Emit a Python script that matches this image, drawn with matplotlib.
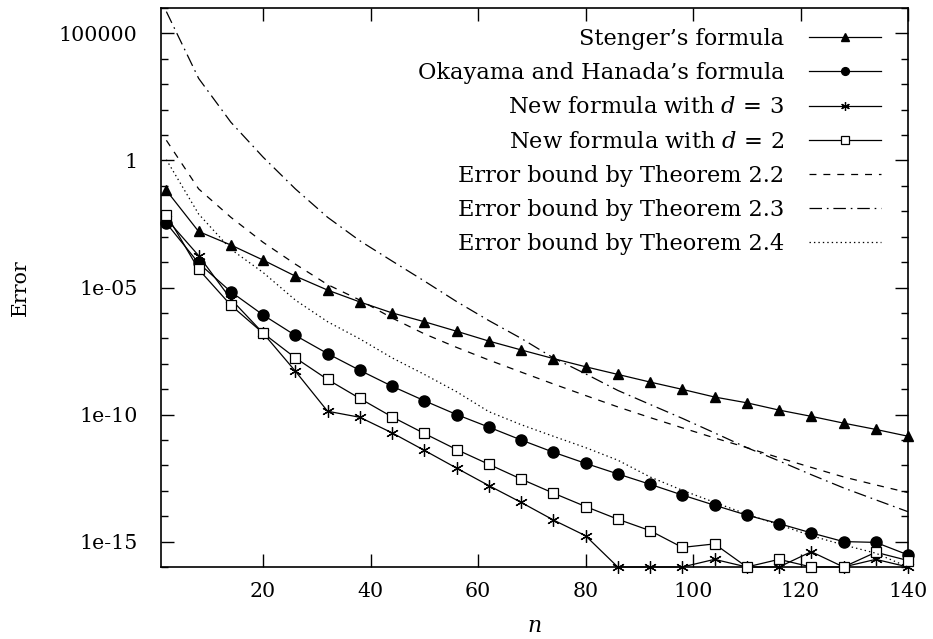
import matplotlib
matplotlib.use("Agg")
import matplotlib.pyplot as plt
from matplotlib.ticker import FixedLocator, FuncFormatter, NullFormatter

# ---------------- data ----------------
n = [2, 8, 14, 20, 26, 32, 38, 44, 50, 56, 62, 68, 74, 80, 86, 92, 98, 104,
     110, 116, 122, 128, 134, 140]

stenger = [6.6e-2, 1.6e-3, 4.7e-4, 1.2e-4, 2.8e-5, 7.9e-6, 2.7e-6, 1.0e-6,
           4.5e-7, 1.9e-7, 7.8e-8, 3.5e-8, 1.6e-8, 7.6e-9, 3.8e-9, 1.9e-9,
           9.8e-10, 4.9e-10, 2.9e-10, 1.5e-10, 8.5e-11, 4.6e-11, 2.6e-11, 1.4e-11]

okayama = [3.4e-3, 9.1e-5, 6.8e-6, 8.3e-7, 1.3e-7, 2.5e-8, 5.5e-9, 1.3e-9,
           3.5e-10, 1.0e-10, 3.2e-11, 1.0e-11, 3.3e-12, 1.2e-12, 4.6e-13,
           1.8e-13, 6.8e-14, 2.7e-14, 1.1e-14, 5.1e-15, 2.2e-15, 1.0e-15,
           9.3e-16, 3.0e-16]

new_d3 = [5.0e-3, 1.8e-4, 3.5e-6, 1.6e-7, 5.1e-9, 1.35e-10, 7.8e-11, 1.9e-11,
          3.9e-12, 7.8e-13, 1.6e-13, 3.5e-14, 7.1e-15, 1.7e-15, 1.0e-16,
          1.0e-16, 1.0e-16, 2.0e-16, 1.0e-16, 1.0e-16, 4.0e-16, 1.0e-16,
          2.0e-16, 1.0e-16]

new_d2 = [7.4e-3, 5.2e-5, 2.0e-6, 1.6e-7, 1.7e-8, 2.4e-9, 4.3e-10, 8.1e-11,
          1.8e-11, 4.2e-12, 1.1e-12, 2.9e-13, 8.1e-14, 2.4e-14, 7.6e-15,
          2.7e-15, 5.9e-16, 8.1e-16, 1.0e-16, 2.0e-16, 1.0e-16, 1.0e-16,
          3.8e-16, 1.8e-16]

bound_22 = [6.2, 7.6e-2, 5.8e-3, 6.0e-4, 8.3e-5, 1.3e-5, 3.2e-6, 6.3e-7,
            1.5e-7, 4.4e-8, 1.4e-8, 4.7e-9, 1.6e-9, 5.6e-10, 2.0e-10, 7.6e-11,
            3.0e-11, 1.2e-11, 5.0e-12, 2.0e-12, 8.3e-13, 3.5e-13, 1.7e-13,
            8.5e-14]

bound_23 = [7.2e5, 1.7e3, 32.0, 1.35, 7.6e-2, 5.8e-3, 6.9e-4, 1.1e-4, 1.8e-5,
            2.8e-6, 5.0e-7, 1.0e-7, 1.7e-8, 4.0e-9, 8.9e-10, 2.5e-10, 7.1e-11,
            1.9e-11, 5.0e-12, 1.5e-12, 4.3e-13, 1.3e-13, 4.4e-14, 1.5e-14]

bound_24 = [1.07, 7.8e-3, 3.2e-4, 3.9e-5, 3.2e-6, 4.5e-7, 9.5e-8, 1.7e-8,
            3.8e-9, 7.9e-10, 1.3e-10, 4.0e-11, 1.4e-11, 5.0e-12, 1.6e-12,
            3.5e-13, 1.05e-13, 3.5e-14, 1.2e-14, 4.6e-15, 1.7e-15, 7.4e-16,
            3.5e-16, 1.0e-16]

labels = ["Stenger\u2019s formula",
          "Okayama and Hanada\u2019s formula",
          "New formula with $d\\,=\\,3$",
          "New formula with $d\\,=\\,2$",
          "Error bound by Theorem 2.2",
          "Error bound by Theorem 2.3",
          "Error bound by Theorem 2.4"]

x_ticks = [20, 40, 60, 80, 100, 120, 140]
y_major = [1e-15, 1e-10, 1e-5, 1, 1e5]
y_labels = ["1e-15", "1e-10", "1e-05", "1", "100000"]
y_minor = [10.0 ** k for k in range(-16, 7)]

# ---------------- style ----------------
plt.rcParams['font.family'] = ['DejaVu Serif']
plt.rcParams['mathtext.fontset'] = 'dejavuserif'
plt.rcParams['lines.scale_dashes'] = False
FS = 14.8
LFS = 16.2

fig = plt.figure(figsize=(9.33, 6.39), dpi=100)
ax = fig.add_axes([161 / 933, 1 - 567 / 639, (908 - 161) / 933, (567 - 8) / 639])

lw = 0.9
ax.plot(n, stenger, color='black', lw=lw, marker='^', ms=7.5,
        label=labels[0], clip_on=False)
ax.plot(n, okayama, color='black', lw=lw, marker='o', ms=8,
        label=labels[1], clip_on=False)
ax.plot(n, new_d3, color='black', lw=lw, marker=(6, 2, 0), ms=9,
        mew=0.9, label=labels[2], clip_on=False)
ax.plot(n, new_d2, color='black', lw=lw, marker='s', ms=7.5,
        mfc='white', mew=0.9, label=labels[3], clip_on=False)
ax.plot(n, bound_22, color='black', lw=lw, dashes=(5, 5), label=labels[4])
ax.plot(n, bound_23, color='black', lw=lw, dashes=(9, 3.5, 1.2, 3.5),
        label=labels[5])
ax.plot(n, bound_24, color='black', lw=lw, dashes=(1, 2.2), label=labels[6])

ax.set_yscale('log')
ax.set_xlim(1, 140)
ax.set_ylim(1e-16, 1e6)

ax.xaxis.set_major_locator(FixedLocator(x_ticks))
ax.yaxis.set_major_locator(FixedLocator(y_major))
ax.yaxis.set_minor_locator(FixedLocator(y_minor))
ax.yaxis.set_major_formatter(FuncFormatter(
    lambda v, p: y_labels[y_major.index(v)] if v in y_major else ""))
ax.yaxis.set_minor_formatter(NullFormatter())

ax.tick_params(which='major', direction='in', length=9.5, width=1.0,
               top=True, right=True, labelsize=FS)
ax.tick_params(which='minor', direction='in', length=5, width=1.0,
               left=True, right=True)
ax.tick_params(axis='y', which='major', pad=17)
ax.tick_params(axis='x', which='major', pad=11)

for s in ax.spines.values():
    s.set_linewidth(1.2)
    s.set_zorder(1)

ax.set_xlabel("$n$", fontsize=FS + 1, labelpad=10)
ax.set_ylabel("Error", fontsize=FS)
ax.yaxis.set_label_coords(-0.175, 0.5)

leg = ax.legend(loc='upper right', bbox_to_anchor=(0.964, 0.964),
                markerfirst=False, frameon=False, fontsize=LFS,
                handlelength=3.2, handletextpad=1.1, labelspacing=0.54,
                borderpad=0, borderaxespad=0, markerscale=0.7)
for t in leg.get_texts():
    t.set_ha('right')

fig.savefig("out.png", dpi=100)
